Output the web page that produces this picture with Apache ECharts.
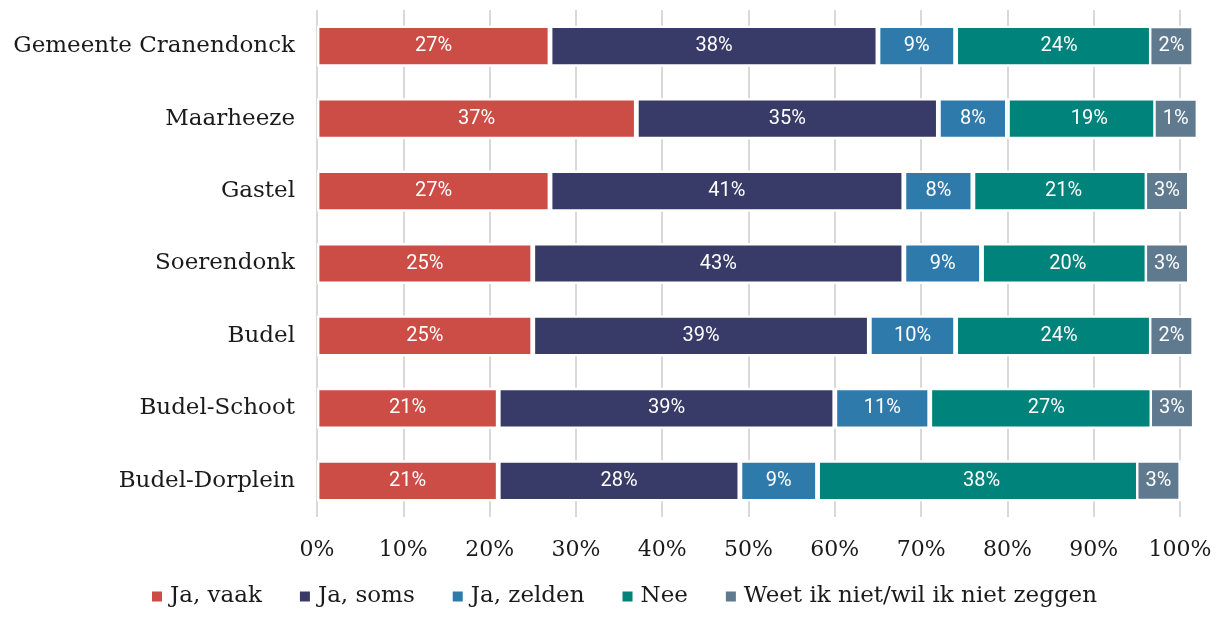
<!DOCTYPE html>
<html>
<head>
<meta charset="utf-8">
<script src="https://cdn.jsdelivr.net/npm/echarts@6/dist/echarts.min.js"></script>
<style>
	html, body { margin: 0; padding: 0; background: #fff; }
	#chart { width: 1225px; height: 617px; }
</style>
</head>
<body>
<div id="chart"></div>
<script>
	// categories (top to bottom)
	var places = ['Gemeente Cranendonck', 'Maarheeze', 'Gastel', 'Soerendonk', 'Budel', 'Budel-Schoot', 'Budel-Dorplein'];
	// answers, in %
	var jaVaak = [27, 37, 27, 25, 25, 21, 21];
	var jaSoms = [38, 35, 41, 43, 39, 39, 28];
	var jaZelden = [9, 8, 8, 9, 10, 11, 9];
	var nee = [24, 19, 21, 20, 24, 27, 38];
	var weetNiet = [2, 1, 3, 3, 2, 3, 3];
	var seriesNames = ['Ja, vaak', 'Ja, soms', 'Ja, zelden', 'Nee', 'Weet ik niet/wil ik niet zeggen'];
	var colors = ['#cb4d45', '#383a67', '#2e7bab', '#00837a', '#5f798f'];

	var serif = "'DejaVu Serif', 'Liberation Serif', serif";

	function barSeries(name, data, color) {
		return {
			name: name,
			type: 'bar',
			stack: 'total',
			data: data,
			barWidth: 41,
			itemStyle: {
				color: color,
				borderColor: '#fff',
				borderWidth: 2.4
			},
			label: {
				show: true,
				position: 'inside',
				formatter: '{c}%',
				color: '#fff',
				fontFamily: 'Roboto',
				fontSize: 20
			}
		}
	}

	var series = [
		barSeries(seriesNames[0], jaVaak, colors[0]),
		barSeries(seriesNames[1], jaSoms, colors[1]),
		barSeries(seriesNames[2], jaZelden, colors[2]),
		barSeries(seriesNames[3], nee, colors[3]),
		barSeries(seriesNames[4], weetNiet, colors[4])
	];
	// the small "weet niet" values are shown as a boxed label over the bar
	series[4].itemStyle.color = 'rgba(0,0,0,0)';
	series[4].itemStyle.borderColor = 'rgba(0,0,0,0)';
	series[4].label.backgroundColor = colors[4];
	series[4].label.borderColor = '#fff';
	series[4].label.borderWidth = 2.5;
	series[4].label.padding = [8, 7, 8, 7];
	series[4].label.lineHeight = 20;

	var chart = echarts.init(document.getElementById('chart'));
	chart.setOption({
		animation: false,
		legend: {
			bottom: 4,
			left: 147,
			itemWidth: 10,
			itemHeight: 10,
			itemGap: 38,
			icon: 'rect',
			textStyle: {
				fontFamily: serif,
				fontSize: 23,
				color: '#1a1a1a',
				padding: [0, 0, 0, 3]
			},
			data: seriesNames.map(function (n, i) {
				return { name: n, itemStyle: { color: colors[i], borderWidth: 0 } }
			})
		},
		grid: {
			left: 317,
			right: 45,
			top: 10,
			bottom: 100
		},
		xAxis: {
			type: 'value',
			min: 0,
			max: 100,
			interval: 10,
			axisLine: { show: false },
			axisTick: { show: false },
			splitLine: {
				show: true,
				lineStyle: { color: '#d9d9d9', width: 2 }
			},
			axisLabel: {
				formatter: '{value}%',
				margin: 22,
				fontFamily: serif,
				fontSize: 22,
				color: '#1a1a1a'
			}
		},
		yAxis: {
			type: 'category',
			inverse: true,
			data: places,
			axisLine: { show: false },
			axisTick: { show: false },
			axisLabel: {
				margin: 22,
				fontFamily: serif,
				fontSize: 23,
				color: '#1a1a1a'
			}
		},
		series: series
	});
</script>
</body>
</html>
